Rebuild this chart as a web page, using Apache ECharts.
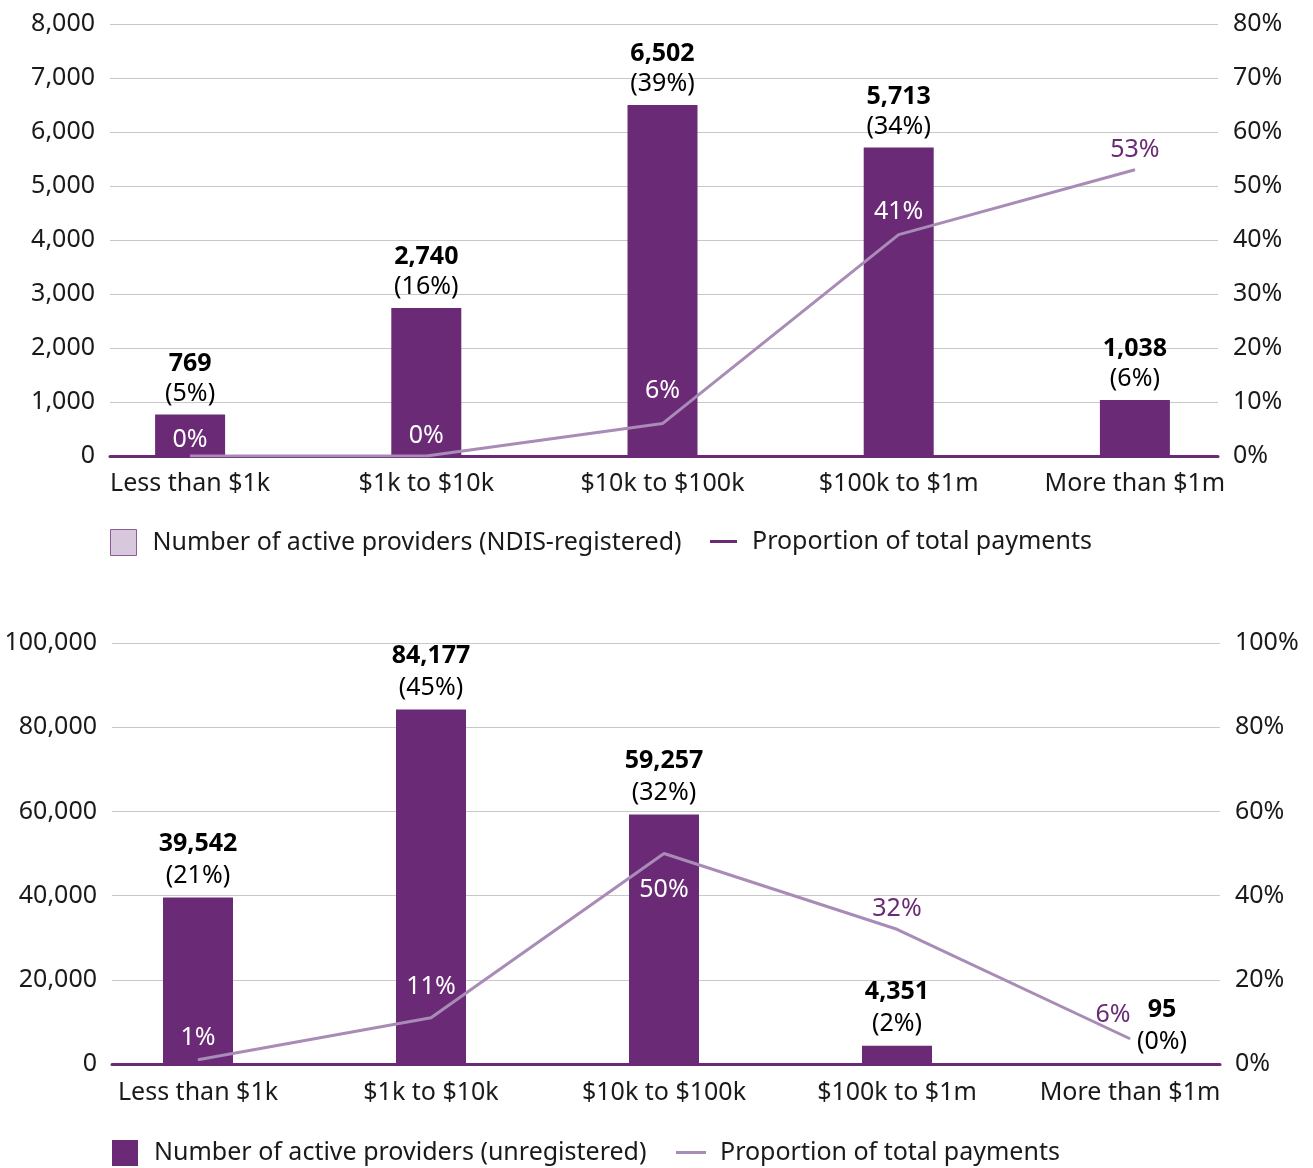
<!DOCTYPE html>
<html>
<head>
<meta charset="utf-8">
<title>Active providers by payment band</title>
<script src="https://cdn.jsdelivr.net/npm/echarts@6/dist/echarts.min.js"></script>
<style>
  html, body { margin: 0; padding: 0; background: #ffffff; }
  #chart { width: 1313px; height: 1168px; }
</style>
</head>
<body>
<div id="chart"></div>
<script>
// Payment bands shared by both panels
const categories = ['Less than $1k', '$1k to $10k', '$10k to $100k', '$100k to $1m', 'More than $1m'];

// Upper panel: NDIS-registered providers
const registeredProviders = [769, 2740, 6502, 5713, 1038];
const registeredShare = [5, 16, 39, 34, 6];          // % of registered providers
const registeredPayments = [0, 0, 6, 41, 53];        // % of total payments

// Lower panel: unregistered providers
const unregisteredProviders = [39542, 84177, 59257, 4351, 95];
const unregisteredShare = [21, 45, 32, 2, 0];
const unregisteredPayments = [1, 11, 50, 32, 6];

// Axis ranges
const registeredCountAxis = { min: 0, max: 8000, interval: 1000 };
const registeredPctAxis = { min: 0, max: 80, interval: 10 };
const unregisteredCountAxis = { min: 0, max: 100000, interval: 20000 };
const unregisteredPctAxis = { min: 0, max: 100, interval: 20 };

const barName1 = 'Number of active providers (NDIS-registered)';
const barName2 = 'Number of active providers (unregistered)';
const lineName = 'Proportion of total payments';

const DARK = '#6b2a76';
const LIGHT = '#a98bb7';
const TEXT = '#1a1a1a';
const FONT = 'Noto Sans';
const FS = 25;

const fmt = v => v.toLocaleString('en-US');

// Placement of the payment-share labels on each line point
const registeredPaymentLabels = [
  { color: '#ffffff', position: 'top', offset: [0, 3] },
  { color: '#ffffff', position: 'top', offset: [0, -1] },
  { color: '#ffffff', position: 'top', offset: [0, -13] },
  { color: '#ffffff', position: 'top', offset: [0, -3] },
  { color: DARK, position: 'top', offset: [0, 0] }
];
const unregisteredPaymentLabels = [
  { color: '#ffffff', position: 'top', offset: [0, -2] },
  { color: '#ffffff', position: 'top', offset: [0, -11] },
  { color: '#ffffff', position: 'bottom', offset: [0, 17] },
  { color: DARK, position: 'top', offset: [0, -1] },
  { color: DARK, position: 'top', offset: [-17, -4] }
];
// Horizontal nudge of the count labels (tiny last bar has its label set aside)
const unregisteredBarLabelOffsets = [[0, 0], [0, 0], [0, 0], [0, 0], [32, 0]];

function barLabelRich(lineHeight) {
  return {
    v: { fontFamily: FONT, fontSize: FS, fontWeight: 'bold', color: '#000', lineHeight: lineHeight },
    p: { fontFamily: FONT, fontSize: FS, color: '#000', lineHeight: lineHeight }
  };
}

function barSeries(name, xi, yi, values, shares, lineHeight, offsets) {
  return {
    name: name,
    type: 'bar',
    xAxisIndex: xi,
    yAxisIndex: yi,
    barWidth: 70,
    itemStyle: { color: DARK },
    z: 2,
    data: values.map((v, i) => ({
      value: v,
      label: { offset: offsets ? offsets[i] : [0, 0] }
    })),
    label: {
      show: true,
      position: 'top',
      distance: 6,
      formatter: p => '{v|' + fmt(values[p.dataIndex]) + '}\n{p|(' + shares[p.dataIndex] + '%)}',
      rich: barLabelRich(lineHeight)
    }
  };
}

function lineSeries(xi, yi, values, labelStyles) {
  return {
    name: lineName,
    type: 'line',
    xAxisIndex: xi,
    yAxisIndex: yi,
    symbol: 'circle',
    symbolSize: 1,
    showSymbol: true,
    itemStyle: { color: LIGHT },
    lineStyle: { color: LIGHT, width: 3 },
    z: 4,
    data: values.map((v, i) => ({
      value: v,
      label: {
        color: labelStyles[i].color,
        position: labelStyles[i].position,
        offset: labelStyles[i].offset
      }
    })),
    label: {
      show: true,
      distance: 7,
      fontFamily: FONT,
      fontSize: FS,
      lineHeight: 24,
      formatter: p => values[p.dataIndex] + '%'
    }
  };
}

function frameX(gi) {
  return {
    type: 'value', gridIndex: gi, min: 0, max: 1,
    axisLine: { show: true, onZero: false, lineStyle: { color: DARK, width: 3 } },
    axisTick: { show: false }, axisLabel: { show: false }, splitLine: { show: false }
  };
}
function categoryX(gi, margin) {
  return {
    type: 'category', gridIndex: gi, data: categories,
    axisLine: { show: false }, axisTick: { show: false },
    axisLabel: { fontFamily: FONT, fontSize: FS, color: TEXT, margin: margin, interval: 0 }
  };
}
function valueY(gi, range, pos, fmtFn, split, show) {
  return {
    type: 'value', gridIndex: gi, position: pos,
    min: range.min, max: range.max, interval: range.interval,
    show: show,
    axisLine: { show: false }, axisTick: { show: false },
    axisLabel: { fontFamily: FONT, fontSize: FS, color: TEXT, margin: 15, formatter: fmtFn },
    splitLine: { show: split, lineStyle: { color: '#c8c8c8', width: 1 } }
  };
}

function legendBlock(left, top, name, iconW, iconH, itemStyle, gap) {
  return {
    left: left, top: top, padding: 0, itemWidth: iconW, itemHeight: iconH,
    selectedMode: false,
    textStyle: { fontFamily: FONT, fontSize: FS, color: TEXT, padding: [0, 0, 0, gap] },
    data: [{ name: name, icon: 'rect', itemStyle: itemStyle }]
  };
}

const option = {
  animation: false,
  backgroundColor: '#ffffff',
  textStyle: { fontFamily: FONT },
  grid: [
    { left: 110, right: 95, top: 24, height: 432 },     // upper frame
    { left: 72, right: 60, top: 24, height: 432 },      // upper categories
    { left: 112, right: 93, top: 643, height: 421 },    // lower frame
    { left: 81.5, right: 66.5, top: 643, height: 421 }  // lower categories
  ],
  xAxis: [frameX(0), categoryX(1, 15), frameX(2), categoryX(3, 16)],
  yAxis: [
    valueY(0, registeredCountAxis, 'left', v => fmt(v), true, true),
    valueY(0, registeredPctAxis, 'right', v => v + '%', false, true),
    valueY(1, registeredCountAxis, 'left', null, false, false),
    valueY(1, registeredPctAxis, 'right', null, false, false),
    valueY(2, unregisteredCountAxis, 'left', v => fmt(v), true, true),
    valueY(2, unregisteredPctAxis, 'right', v => v + '%', false, true),
    valueY(3, unregisteredCountAxis, 'left', null, false, false),
    valueY(3, unregisteredPctAxis, 'right', null, false, false)
  ],
  legend: [
    legendBlock(110, 529, barName1, 26, 26, { color: '#d8c8dd', borderColor: '#8d5c98', borderWidth: 1 }, 11),
    legendBlock(710, 529, lineName, 27, 3, { color: DARK, borderWidth: 0 }, 10),
    legendBlock(112, 1140, barName2, 26, 26, { color: DARK, borderWidth: 0 }, 11),
    legendBlock(676, 1140, lineName, 30, 3, { color: LIGHT, borderWidth: 0 }, 9)
  ],
  series: [
    barSeries(barName1, 1, 2, registeredProviders, registeredShare, 30, null),
    lineSeries(1, 3, registeredPayments, registeredPaymentLabels),
    barSeries(barName2, 3, 6, unregisteredProviders, unregisteredShare, 32, unregisteredBarLabelOffsets),
    lineSeries(3, 7, unregisteredPayments, unregisteredPaymentLabels)
  ]
};

const chart = echarts.init(document.getElementById('chart'), null, { renderer: 'canvas' });
chart.setOption(option);
</script>
</body>
</html>
